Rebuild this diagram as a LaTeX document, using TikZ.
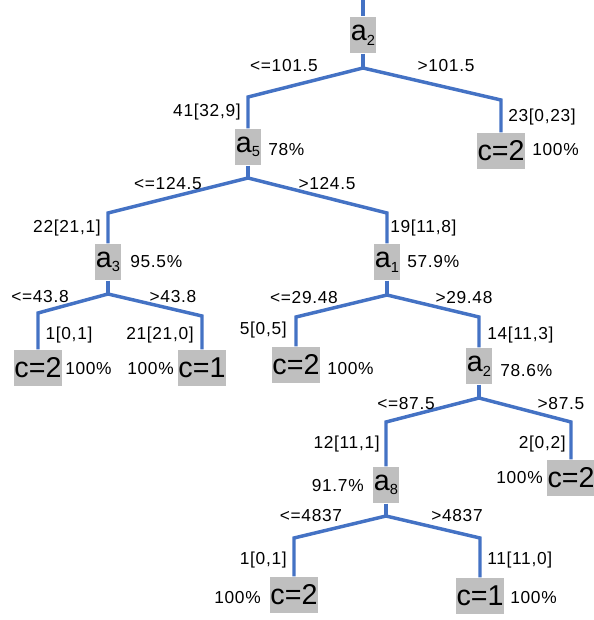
\documentclass[tikz,border=0pt]{standalone}
\usepackage{fontspec}
\setmainfont{Liberation Sans}
\newfontfamily\lblfont[LetterSpace=4]{Liberation Sans}
\definecolor{edgeblue}{HTML}{4472C4}
\definecolor{boxgray}{HTML}{BFBFBF}
\newcommand{\attrname}[1]{a\raisebox{-3.5pt}{\fontsize{11}{11}\selectfont #1}}
\begin{document}
\begin{tikzpicture}[x=0.75pt,y=-0.75pt,
  attr/.style={fill=boxgray,inner sep=0pt,minimum width=20pt,minimum height=27.5pt,font=\fontsize{21.5}{22}\selectfont},
  leaf/.style={attr,minimum width=36pt},
  lbl/.style={inner sep=0pt,font=\lblfont\fontsize{13}{14}\selectfont},
  edge/.style={draw=edgeblue,line width=2.6pt}]
\useasboundingbox (0,0) rectangle (593,620);

% nodes
\node[attr] (r) at (363,35) {\attrname{2}};
\coordinate (top) at (363,0);
\node[attr] (a5) at (248,147) {\attrname{5}};
\node[leaf] (l1) at (501,151) {c=2};
\node[attr] (a3) at (108,262) {\attrname{3}};
\node[attr] (a1) at (387,262) {\attrname{1}};
\node[leaf] (l2) at (38,368) {c=2};
\node[leaf] (l3) at (202,368) {c=1};
\node[leaf] (l4) at (296,365) {c=2};
\node[attr] (a2b) at (479,366) {\attrname{2}};
\node[leaf] (l5) at (571,478) {c=2};
\node[attr] (a8) at (386,485) {\attrname{8}};
\node[leaf] (l6) at (294,595) {c=2};
\node[leaf] (l7) at (480,596) {c=1};

% junctions
\coordinate (jr) at (363,68);
\coordinate (j5) at (248,178);
\coordinate (j3) at (108,294);
\coordinate (j1) at (387,295);
\coordinate (j2) at (479,398);
\coordinate (j8) at (386,516);

% edges
\draw[edge] (top) -- (r.north);
\draw[edge] (r.south) -- (jr);
\draw[edge] (jr) -- (a5.north |- 0,97) -- (a5.north);
\draw[edge] (jr) -- (l1.north |- 0,100) -- (l1.north);
\draw[edge] (a5.south) -- (j5);
\draw[edge] (j5) -- (a3.north |- 0,213) -- (a3.north);
\draw[edge] (j5) -- (a1.north |- 0,213) -- (a1.north);
\draw[edge] (a3.south) -- (j3);
\draw[edge] (j3) -- (l2.north |- 0,313) -- (l2.north);
\draw[edge] (j3) -- (l3.north |- 0,316) -- (l3.north);
\draw[edge] (a1.south) -- (j1);
\draw[edge] (j1) -- (l4.north |- 0,317) -- (l4.north);
\draw[edge] (j1) -- (a2b.north |- 0,317) -- (a2b.north);
\draw[edge] (a2b.south) -- (j2);
\draw[edge] (j2) -- (a8.north |- 0,422) -- (a8.north);
\draw[edge] (j2) -- (l5.north |- 0,422) -- (l5.north);
\draw[edge] (a8.south) -- (j8);
\draw[edge] (j8) -- (l6.north |- 0,538) -- (l6.north);
\draw[edge] (j8) -- (l7.north |- 0,538) -- (l7.north);

% condition labels
\node[lbl] (c1) at (284,66) {<=101.5};
\node[lbl] (c2) at (446,66) {>101.5};
\node[lbl] (c3) at (168,184) {<=124.5};
\node[lbl] (c4) at (327,184) {>124.5};
\node[lbl] (c5) at (40,297) {<=43.8};
\node[lbl] (c6) at (173,297) {>43.8};
\node[lbl] (c7) at (304,298) {<=29.48};
\node[lbl] (c8) at (464,298) {>29.48};
\node[lbl] (c9) at (406,404) {<=87.5};
\node[lbl] (c10) at (561,404) {>87.5};
\node[lbl] (c11) at (311,516) {<=4837};
\node[lbl] (c12) at (457,516) {>4837};

% count labels
\node[lbl,anchor=east] (n1) at (241,112) {41[32,9]};
\node[lbl,anchor=west] (n2) at (508,117) {23[0,23]};
\node[lbl,anchor=east] (n3) at (101,228) {22[21,1]};
\node[lbl,anchor=west] (n4) at (390,228) {19[11,8]};
\node[lbl] (n5) at (69,335) {1[0,1]};
\node[lbl] (n6) at (160,335) {21[21,0]};
\node[lbl,anchor=east] (n7) at (287,330) {5[0,5]};
\node[lbl,anchor=west] (n8) at (487,335) {14[11,3]};
\node[lbl,anchor=east] (n9) at (380,444) {12[11,1]};
\node[lbl,anchor=east] (n10) at (566,444) {2[0,2]};
\node[lbl,anchor=east] (n11) at (287,560) {1[0,1]};
\node[lbl,anchor=west] (n12) at (487,560) {11[11,0]};

% accuracy labels
\node[lbl,anchor=west] (p1) at (268,150) {78\%};
\node[lbl,anchor=west] (p2) at (532,150) {100\%};
\node[lbl,anchor=west] (p3) at (130,262) {95.5\%};
\node[lbl,anchor=west] (p4) at (407,262) {57.9\%};
\node[lbl,anchor=west] (p5) at (65,369) {100\%};
\node[lbl,anchor=east] (p6) at (174,369) {100\%};
\node[lbl,anchor=west] (p7) at (327,369) {100\%};
\node[lbl,anchor=west] (p8) at (500,371) {78.6\%};
\node[lbl,anchor=east] (p9) at (364,486) {91.7\%};
\node[lbl,anchor=east] (p10) at (543,478) {100\%};
\node[lbl,anchor=east] (p11) at (261,598) {100\%};
\node[lbl,anchor=west] (p12) at (510,598) {100\%};
\end{tikzpicture}
\end{document}
